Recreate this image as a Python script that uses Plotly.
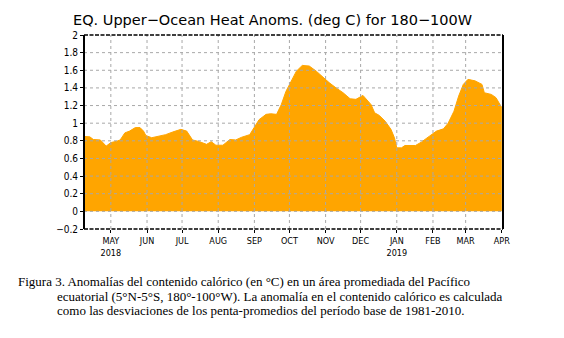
import plotly.graph_objects as go

dates = [
    "2018-04-08", "2018-04-13", "2018-04-16", "2018-04-22", "2018-04-27", "2018-05-01",
    "2018-05-06", "2018-05-09", "2018-05-13", "2018-05-17", "2018-05-22", "2018-05-26",
    "2018-05-29", "2018-05-31", "2018-06-05", "2018-06-10", "2018-06-17", "2018-06-23",
    "2018-06-30", "2018-07-05", "2018-07-10", "2018-07-16", "2018-07-22", "2018-07-26",
    "2018-07-30", "2018-08-05", "2018-08-11", "2018-08-16", "2018-08-21", "2018-08-28",
    "2018-09-01", "2018-09-05", "2018-09-11", "2018-09-15", "2018-09-20", "2018-09-24",
    "2018-09-28", "2018-10-03", "2018-10-07", "2018-10-12", "2018-10-18", "2018-10-24",
    "2018-10-30", "2018-11-04", "2018-11-10", "2018-11-16", "2018-11-22", "2018-11-27",
    "2018-12-03", "2018-12-06", "2018-12-10", "2018-12-13", "2018-12-17", "2018-12-22",
    "2018-12-27", "2018-12-30", "2019-01-01", "2019-01-05", "2019-01-08", "2019-01-17",
    "2019-01-22", "2019-01-29", "2019-02-04", "2019-02-10", "2019-02-14", "2019-02-19",
    "2019-02-23", "2019-02-27", "2019-03-03", "2019-03-09", "2019-03-15", "2019-03-17",
    "2019-03-23", "2019-03-27", "2019-04-01",
]
heat_anom = [
    0.85, 0.845, 0.815, 0.81, 0.74, 0.78,
    0.795, 0.81, 0.89, 0.91, 0.95, 0.95,
    0.91, 0.86, 0.835, 0.85, 0.87, 0.90,
    0.93, 0.91, 0.81, 0.79, 0.76, 0.79,
    0.75, 0.75, 0.815, 0.81, 0.84, 0.87,
    0.95, 1.04, 1.10, 1.107, 1.10, 1.21,
    1.36, 1.48, 1.59, 1.655, 1.648, 1.59,
    1.516, 1.46, 1.40, 1.345, 1.277, 1.27,
    1.315, 1.27, 1.21, 1.118, 1.088, 1.023,
    0.93, 0.834, 0.72, 0.72, 0.747, 0.747,
    0.785, 0.853, 0.91, 0.936, 1.0, 1.136,
    1.307, 1.44, 1.497, 1.48, 1.44, 1.345,
    1.326, 1.289, 1.175,
]

month_ticks = ["2018-05-01", "2018-06-01", "2018-07-01", "2018-08-01", "2018-09-01",
               "2018-10-01", "2018-11-01", "2018-12-01", "2019-01-01", "2019-02-01",
               "2019-03-01", "2019-04-01"]
month_labels = ["MAY<br>2018", "JUN", "JUL", "AUG", "SEP", "OCT", "NOV", "DEC",
                "JAN<br>2019", "FEB", "MAR", "APR"]
y_ticks = [-0.2, 0, 0.2, 0.4, 0.6, 0.8, 1, 1.2, 1.4, 1.6, 1.8, 2]
y_labels = ["\u22120.2", "0", "0.2", "0.4", "0.6", "0.8", "1", "1.2", "1.4", "1.6", "1.8", "2"]

title_text = "EQ. Upper\u2212Ocean Heat Anoms. (deg C) for 180\u2212100W"
caption_lines = [
    "Figura 3. Anomal\u00edas del contenido cal\u00f3rico (en \u00b0C) en un \u00e1rea promediada del Pac\u00edfico",
    "ecuatorial (5\u00b0N-5\u00b0S, 180\u00b0-100\u00b0W). La anomal\u00eda en el contenido cal\u00f3rico es calculada",
    "como las desviaciones de los penta-promedios del per\u00edodo base de 1981-2010.",
]

x_range = ["2018-04-08", "2019-04-02"]
y_range = [-0.2, 2]

fig = go.Figure()
fig.add_trace(go.Scatter(
    x=dates, y=heat_anom, mode="lines", fill="tozeroy",
    fillcolor="#FFA500", line=dict(color="#FFA500", width=1),
    hoverinfo="skip", showlegend=False,
))

shapes = []
for t in y_ticks[1:-1]:
    shapes.append(dict(type="line", xref="paper", yref="y", x0=0, x1=1, y0=t, y1=t,
                       line=dict(color="#a8a8a8", width=1, dash="dot"), layer="above"))
for t in month_ticks[:-1]:
    shapes.append(dict(type="line", xref="x", yref="paper", x0=t, x1=t, y0=0, y1=1,
                       line=dict(color="#a8a8a8", width=1, dash="dot"), layer="above"))
# frame
shapes.append(dict(type="line", xref="paper", yref="paper", x0=0, x1=0, y0=0, y1=1,
                   line=dict(color="black", width=2), layer="above"))
shapes.append(dict(type="line", xref="paper", yref="paper", x0=1, x1=1, y0=0, y1=1,
                   line=dict(color="black", width=2), layer="above"))
shapes.append(dict(type="line", xref="paper", yref="paper", x0=0, x1=1, y0=1, y1=1,
                   line=dict(color="black", width=1.5, dash="4px,1.5px"), layer="above"))
shapes.append(dict(type="line", xref="paper", yref="paper", x0=0, x1=1, y0=0, y1=0,
                   line=dict(color="black", width=1.5, dash="4px,1.5px"), layer="above"))

annotations = [dict(text=title_text, xref="paper", yref="paper", x=0.449, y=1.0 + 15 / 194.5,
                    xanchor="center", yanchor="middle", showarrow=False,
                    font=dict(family="DejaVu Sans", size=14.5, color="black"))]
cap_x = [16, 55, 55]
cap_y = [282, 297, 311]
for txt, cx, cy in zip(caption_lines, cap_x, cap_y):
    annotations.append(dict(text=txt, xref="paper", yref="paper",
                            x=(cx - 84) / 419, y=(229.5 - cy) / 194.5,
                            xanchor="left", yanchor="middle", showarrow=False,
                            font=dict(family="Liberation Serif", size=13, color="black")))

fig.update_layout(
    width=564, height=338,
    margin=dict(l=84, r=61, t=35, b=108.5),
    paper_bgcolor="white", plot_bgcolor="white",
    shapes=shapes, annotations=annotations,
    xaxis=dict(range=x_range, tickvals=month_ticks, ticktext=month_labels,
               showgrid=False, zeroline=False, ticks="outside", ticklen=3,
               tickcolor="black", showline=False,
               tickfont=dict(family="DejaVu Sans Condensed", size=9, color="black")),
    yaxis=dict(range=y_range, tickvals=y_ticks, ticktext=y_labels,
               showgrid=False, zeroline=False, ticks="outside", ticklen=3,
               tickcolor="black", showline=False,
               tickfont=dict(family="DejaVu Sans Condensed", size=10, color="black")),
)

fig.write_html("out.html")
